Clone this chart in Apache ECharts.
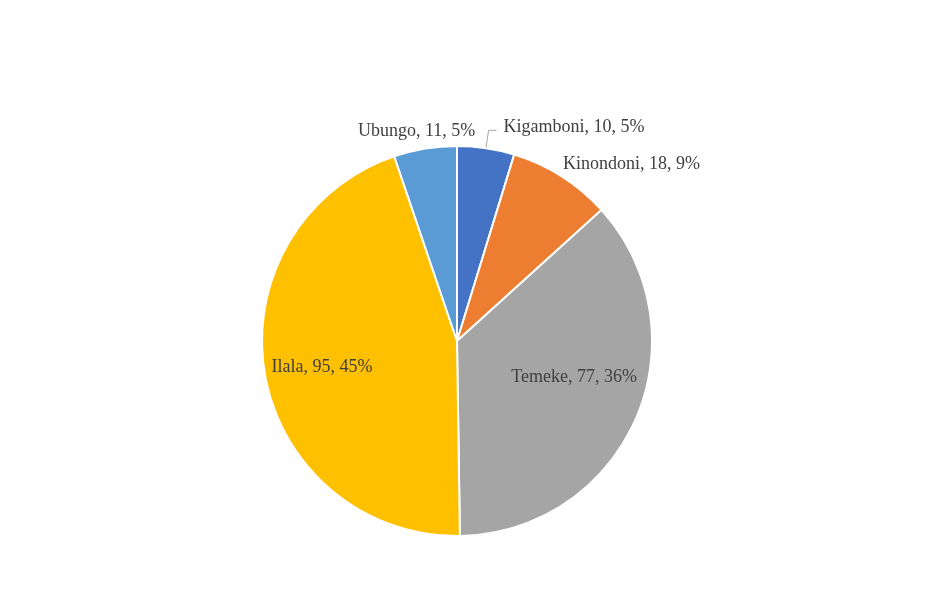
<!DOCTYPE html>
<html>
<head>
<meta charset="utf-8">
<script src="https://cdn.jsdelivr.net/npm/echarts@6/dist/echarts.min.js"></script>
<style>
  html, body { margin: 0; padding: 0; background: #fff; }
  #chart { width: 939px; height: 590px; }
</style>
</head>
<body>
<div id="chart"></div>
<script>
// 各区数据
const districts = ["Kigamboni", "Kinondoni", "Temeke", "Ilala", "Ubungo"];
const counts = [10, 18, 77, 95, 11];
const colors = ["#4472C4", "#ED7D31", "#A5A5A5", "#FFC000", "#5B9BD5"];
// 标签位置: 外部 / 内部
const labelPos = ["outside", "outside", "inside", "inside", "outside"];

const total = counts.reduce((a, b) => a + b, 0);

const chart = echarts.init(document.getElementById("chart"));

const pieData = districts.map((name, i) => ({
  name: name,
  value: counts[i],
  itemStyle: { color: colors[i] },
  label: { position: labelPos[i] },
  // 只有Kigamboni显示引导线
  labelLine: i === 0 ? { show: true, length: 18, length2: 8 } : { show: false },
}));

chart.setOption({
  animation: false,
  series: [
    {
      type: "pie",
      center: [457, 341],
      radius: 195,
      startAngle: 90,
      clockwise: true,
      data: pieData,
      itemStyle: {
        borderColor: "#fff",
        borderWidth: 2,
      },
      label: {
        color: "#404040",
        fontFamily: "Liberation Serif",
        fontSize: 18,
        formatter: (p) => p.name + ", " + p.value + ", " + Math.round((p.value / total) * 100) + "%",
      },
      labelLine: {
        length: 12,
        length2: 8,
        lineStyle: { color: "#A6A6A6", width: 1 },
      },
      labelLayout: (params) => {
        // 微调标签位置
        const shifts = [
          { dx: 2, dy: -3 },
          { dx: -18, dy: -2 },
          { dx: 25, dy: -4 },
          { dx: -36, dy: 9 },
          { dx: 65, dy: -6 },
        ];
        return shifts[params.dataIndex];
      },
    },
  ],
});
</script>
</body>
</html>
